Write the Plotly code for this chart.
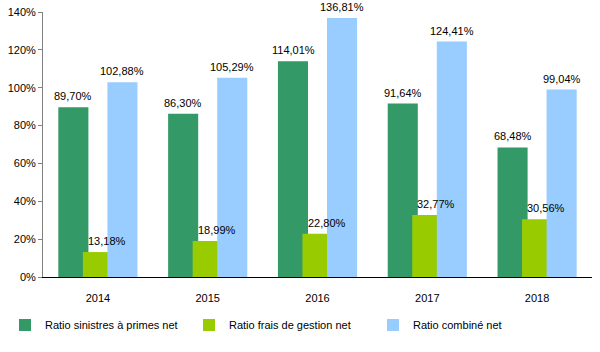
import plotly.graph_objects as go

years = ["2014", "2015", "2016", "2017", "2018"]
sinistres = [89.70, 86.30, 114.01, 91.64, 68.48]
frais = [13.18, 18.99, 22.80, 32.77, 30.56]
combine = [102.88, 105.29, 136.81, 124.41, 99.04]

names = ["Ratio sinistres à primes net", "Ratio frais de gestion net", "Ratio combiné net"]
colors = ["#339966", "#99CC00", "#99CCFF"]
series = [sinistres, frais, combine]

xpos = list(range(len(years)))

W = 0.274
STEP = 0.2235
offsets = [-W / 2 - STEP, -W / 2, -W / 2 + STEP]
label_shift_px = [-24.5, 9, 24.5]

fig = go.Figure()
for name, col, vals, off in zip(names, colors, series, offsets):
    fig.add_trace(go.Bar(x=xpos, y=vals, name=name, marker=dict(color=col, line=dict(width=0)),
                         width=W, offset=off))

annotations = []
for vals, sh in zip(series, label_shift_px):
    for xp, v in zip(xpos, vals):
        annotations.append(dict(x=xp, y=v, xref="x", yref="y", text=f"{v:.2f}".replace(".", ",") + "%",
                                showarrow=False, yanchor="bottom", xshift=sh, yshift=3,
                                font=dict(size=11, color="black")))

fig.update_layout(
    width=600, height=352,
    margin=dict(l=43, r=8, t=12, b=75, autoexpand=False),
    barmode="overlay",
    paper_bgcolor="white", plot_bgcolor="white",
    font=dict(family="Liberation Sans, Arial, sans-serif", size=11, color="black"),
    showlegend=True,
    legend=dict(orientation="h", xref="container", yref="container",
                x=5 / 600, y=1 - 325 / 352, xanchor="left", yanchor="middle",
                entrywidth=139, entrywidthmode="pixels", itemwidth=30,
                font=dict(size=11), traceorder="normal"),
    annotations=annotations,
    xaxis=dict(range=[-0.5, len(years) - 0.5], tickvals=xpos, ticktext=years,
               showline=True, linecolor="black", linewidth=1, ticks="",
               ticklabelstandoff=11, automargin=False,
               showgrid=False, zeroline=False, tickfont=dict(size=11)),
    yaxis=dict(range=[0, 140], dtick=20, ticksuffix="%", showline=True, linecolor="#808080",
               linewidth=1, ticks="outside", ticklen=4, tickcolor="#808080", showgrid=False,
               zeroline=False, automargin=False, tickfont=dict(size=11)),
)

fig.write_html("out.html")
